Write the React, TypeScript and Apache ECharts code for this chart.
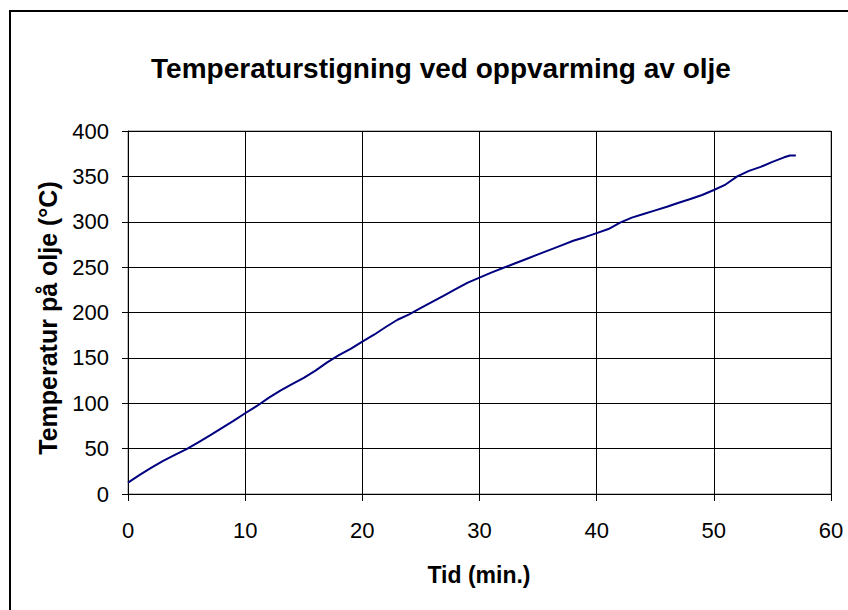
import React, { useEffect, useRef } from "react";
import * as echarts from "echarts";

const titleText = "Temperaturstigning ved oppvarming av olje";
const xAxisTitle = "Tid (min.)";
const yAxisTitle = "Temperatur på olje (°C)";

const timeMinutes = [
  0, 1, 2, 3, 4, 5, 6, 7, 8, 9, 10, 11, 12, 13, 14, 15, 16, 17, 18, 19, 20,
  21, 22, 23, 24, 25, 26, 27, 28, 29, 30, 31, 32, 33, 34, 35, 36, 37, 38, 39,
  40, 41, 42, 43, 44, 45, 46, 47, 48, 49, 50, 51, 52, 53, 54, 55, 56, 56.5, 57,
];
const temperature = [
  12.5, 21, 29, 36.5, 43, 49.5, 57, 64.5, 72.5, 80.5, 89, 97, 106, 114, 121,
  128, 136, 145, 153, 160, 168, 175.5, 184, 192, 198, 205, 212, 219, 226, 233,
  238.5, 244, 249, 254, 259, 264, 269, 274, 279, 283, 287.5, 292, 299, 304.5,
  308.5, 312.5, 316.5, 321, 325, 329.5, 335, 341, 350, 356, 360.5, 366, 371,
  373, 373,
];

const FONT = "'Liberation Sans', Arial, sans-serif";

export default function App() {
  const ref = useRef<HTMLDivElement>(null);
  useEffect(() => {
    if (!ref.current) return;
    const chart = echarts.init(ref.current, undefined, { renderer: "svg" });
    const data = timeMinutes.map((t, i) => [t, temperature[i]]);
    chart.setOption({
      animation: false,
      backgroundColor: "#ffffff",
      textStyle: { fontFamily: FONT },
      grid: {
        left: 128,
        top: 131,
        right: 17,
        bottom: 116,
        show: true,
        borderColor: "#808080",
        borderWidth: 1,
      },
      xAxis: {
        type: "value",
        min: 0,
        max: 60,
        interval: 10,
        axisLine: { show: true, lineStyle: { color: "#000", width: 1 } },
        axisTick: { show: true, inside: false, length: 7, lineStyle: { color: "#000" } },
        axisLabel: { color: "#000", fontSize: 22, fontFamily: FONT, margin: 25 },
        splitLine: { show: true, lineStyle: { color: "#000", width: 1 } },
      },
      yAxis: {
        type: "value",
        min: 0,
        max: 400,
        interval: 50,
        axisLine: { show: true, lineStyle: { color: "#000", width: 1 } },
        axisTick: { show: true, inside: false, length: 6, lineStyle: { color: "#000" } },
        axisLabel: { color: "#000", fontSize: 22, fontFamily: FONT, margin: 19 },
        splitLine: { show: true, lineStyle: { color: "#000", width: 1 } },
      },
      series: [
        {
          type: "line",
          data,
          showSymbol: false,
          symbol: "none",
          lineStyle: { color: "#000080", width: 2 },
          smooth: false,
        },
      ],
      graphic: [
        {
          type: "rect",
          shape: { x: 10, y: 11, width: 860, height: 640 },
          style: { fill: "none", stroke: "#000", lineWidth: 2 },
          silent: true,
        },
        {
          type: "text",
          x: 441,
          y: 68,
          style: {
            text: titleText,
            fontSize: 28,
            fontWeight: "bold",
            fontFamily: FONT,
            fill: "#000",
            align: "center",
            verticalAlign: "middle",
          },
        },
        {
          type: "text",
          x: 479,
          y: 575,
          style: {
            text: xAxisTitle,
            fontSize: 23,
            fontWeight: "bold",
            fontFamily: FONT,
            fill: "#000",
            align: "center",
            verticalAlign: "middle",
          },
        },
        {
          type: "text",
          x: 48,
          y: 318,
          rotation: Math.PI / 2,
          style: {
            text: yAxisTitle,
            fontSize: 25,
            fontWeight: "bold",
            fontFamily: FONT,
            fill: "#000",
            align: "center",
            verticalAlign: "middle",
          },
        },
      ],
    });
    return () => chart.dispose();
  }, []);
  return (
    <div
      ref={ref}
      style={{ position: "fixed", left: 0, top: 0, width: 848, height: 610, background: "#fff" }}
    />
  );
}
